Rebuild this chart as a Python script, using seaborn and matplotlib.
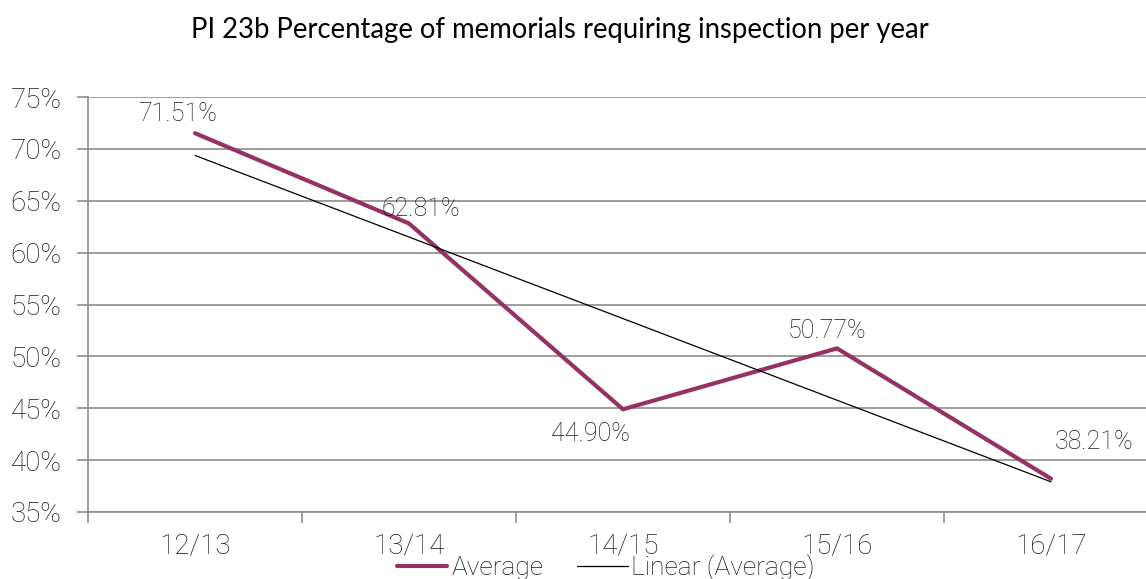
import numpy as np
import pandas as pd
import matplotlib
matplotlib.use("Agg")
import matplotlib.pyplot as plt
import seaborn as sns
from matplotlib.ticker import FixedLocator, FuncFormatter

categories = ["12/13", "13/14", "14/15", "15/16", "16/17"]
average = [71.51, 62.81, 44.90, 50.77, 38.21]
y_ticks = [35, 40, 45, 50, 55, 60, 65, 70, 75]
title = "PI 23b Percentage of memorials requiring inspection per year"

sns.set_theme(style="white")
plt.rcParams['font.family'] = ['Roboto', 'DejaVu Sans']

line_color = "#953163"
grid_color = "#8c8c8c"
text_color = "#1a1a1a"

idx = np.arange(len(categories))
df = pd.DataFrame({"idx": idx, "value": average, "cat": categories})

fig = plt.figure(figsize=(11.46, 5.79), dpi=100)
ax = fig.add_axes([88/1146, 1 - 512/579, 1070/1146, 415/579])

sns.lineplot(data=df, x="idx", y="value", ax=ax, color=line_color, linewidth=3.0,
             label="Average", legend=False, zorder=3)
sns.regplot(data=df, x="idx", y="value", ax=ax, scatter=False, ci=None,
            truncate=True, color="black", line_kws={"linewidth": 0.9, "zorder": 4},
            label="Linear (Average)")

ax.set_xlim(-0.5, 4.5)
ax.set_ylim(35, 75)
ax.set_xlabel("")
ax.set_ylabel("")

ax.yaxis.set_major_locator(FixedLocator(y_ticks))
ax.yaxis.set_major_formatter(FuncFormatter(lambda v, p: f"{v:.0f}%"))
ax.set_xticks(idx)
ax.set_xticklabels(categories)
ax.set_xticks(np.arange(-0.5, 5.0, 1.0), minor=True)

ax.grid(axis="y", color=grid_color, linewidth=1.2)
ax.grid(axis="x", visible=False)
for s in ["top", "right"]:
    ax.spines[s].set_visible(False)
for s in ["left", "bottom"]:
    ax.spines[s].set_visible(True)
    ax.spines[s].set_color(grid_color)
    ax.spines[s].set_linewidth(1.2)

ax.tick_params(axis="y", which="major", left=True, length=8, width=1.2, color=grid_color,
               labelsize=20, labelcolor=text_color, pad=11)
ax.tick_params(axis="x", which="major", bottom=False, labelsize=20, labelcolor=text_color, pad=9)
ax.tick_params(axis="x", which="minor", bottom=True, length=8, width=1.2, color=grid_color)
for lab in ax.get_yticklabels() + ax.get_xticklabels():
    lab.set_fontweight("light")

# data labels
offsets = [(-17, 19), (12, 14), (-33, -25), (-10, 17), (43, 37)]
for i, (v, (dx, dy)) in enumerate(zip(average, offsets)):
    ax.annotate(f"{v:.2f}%", xy=(i, v), xytext=(dx * 0.72, dy * 0.72), textcoords="offset points",
                ha="center", va="center", fontsize=18, color=text_color, fontweight="light")

fig.text(560/1146, 1 - 30/579, title, ha="center", va="center", fontsize=19.8,
         color="black", family=["Lato", "DejaVu Sans"])

handles = [plt.Line2D([], [], color=line_color, linewidth=3.0),
           plt.Line2D([], [], color="black", linewidth=0.9)]
fig.legend(handles, ["Average", "Linear (Average)"], loc="center", ncol=2,
           bbox_to_anchor=(606/1146, 1 - 568/579), frameon=False,
           handlelength=1.9, handletextpad=0.15, columnspacing=1.3,
           prop={"weight": "light", "size": 19})
for t in fig.legends[0].get_texts():
    t.set_color(text_color)

fig.savefig("out.png", dpi=100)
